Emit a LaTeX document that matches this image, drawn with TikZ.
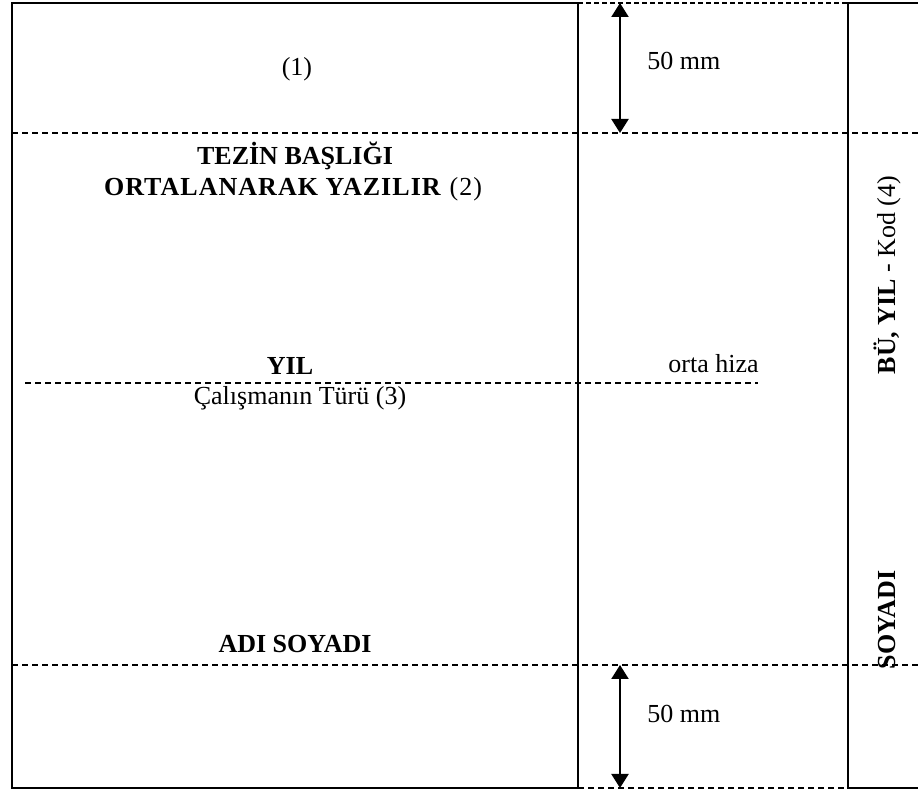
\documentclass[tikz,border=0pt]{standalone}
\usepackage{fontspec}
\setmainfont{Liberation Serif}
\usetikzlibrary{arrows.meta}
\begin{document}
\begin{tikzpicture}[x=0.5pt,y=-0.5pt,
  frameline/.style={line width=1pt, line cap=rect},
  thinline/.style={line width=0.75pt},
  dline/.style={line width=0.7pt, dash pattern=on 3pt off 2pt},
  fineline/.style={line width=0.6pt, dash pattern=on 2.5pt off 1.5pt},
  txt/.style={font=\fontsize{13}{15.5}\selectfont, inner sep=0pt},
  dimarrow/.style={line width=1.1pt, {Triangle[length=7pt,width=8.5pt]}-{Triangle[length=7pt,width=8.5pt]}}
]
\useasboundingbox (0,0) rectangle (918,790);
% coordinates
\coordinate (tl) at (12,3);
\coordinate (tr) at (578,3);
\coordinate (bl) at (12,788);
\coordinate (br) at (578,788);
\coordinate (sl) at (848,3);
\coordinate (sr) at (918,3);
\coordinate (sbl) at (848,788);
\coordinate (sbr) at (918,788);
% left page frame
\draw[frameline] (tr) -- (tl) -- (bl) -- (br);
\draw[thinline] (tr) -- (br);
% spine
\draw[frameline] (sr) -- (sl);
\draw[thinline] (sl) -- (sbl);
\draw[frameline] (sbl) -- (sbr);
% dashed lines
\coordinate (d1a) at (12,133); \coordinate (d1b) at (918,133);
\coordinate (d2a) at (25,383); \coordinate (d2b) at (758,383);
\coordinate (d3a) at (12,665); \coordinate (d3b) at (918,665);
\draw[dline] (d1a) -- (d1b);
\draw[dline] (d2a) -- (d2b);
\draw[dline] (d3a) -- (d3b);
\draw[fineline] (tr) -- (sl);
\draw[dline] (br) -- (sbl);
% dimension arrows
\coordinate (a1) at (620,3); \coordinate (a2) at (620,133);
\coordinate (a3) at (620,665); \coordinate (a4) at (620,788);
\draw[dimarrow] (a1) -- (a2);
\draw[dimarrow] (a3) -- (a4);
% texts
\node[txt, anchor=base] (n1) at (297,76) {(1)};
\node[txt, anchor=base west] (m1) at (647,70) {50 mm};
\node[txt, anchor=base west] (m2) at (647,723) {50 mm};
\node[txt, anchor=base] (t1) at (295,165) {\textbf{TEZİN BAŞLIĞI}};
\node[txt, anchor=base] (t2) at (293,196) {\addfontfeature{LetterSpace=4}\textbf{ORTALANARAK YAZILIR} (2)};
\node[txt, anchor=base] (yil) at (290,375) {\textbf{YIL}};
\node[txt, anchor=base] (tur) at (300,405) {Çalışmanın Türü (3)};
\node[txt, anchor=base west] (orta) at (668,373) {orta hiza};
\node[txt, anchor=base] (adi) at (295,653) {\textbf{ADI SOYADI}};
\node[txt, rotate=90] (kod) at (887,275) {\textbf{BÜ, YIL} - Kod (4)};
\node[txt, rotate=90] (soy) at (887,620) {\textbf{SOYADI}};
\end{tikzpicture}
\end{document}
